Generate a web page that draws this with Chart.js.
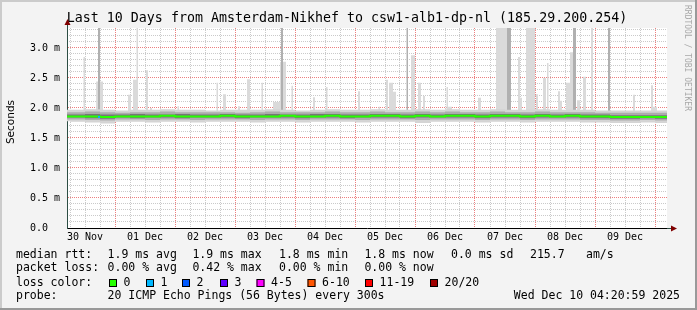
<!DOCTYPE html>
<html>
<head>
<meta charset="utf-8">
<title>Last 10 Days from Amsterdam-Nikhef to csw1-alb1-dp-nl</title>
<script src="https://cdn.jsdelivr.net/npm/chart.js@4.4.1/dist/chart.umd.min.js"></script>
<style>
  html, body { margin: 0; padding: 0; background: #f3f3f3; }
  canvas { display: block; }
</style>
</head>
<body>
<canvas id="chart" width="697" height="310"></canvas>
<script>
// time axis: hours counted from 30 Nov 00:00, window is 10 days ending Dec 10 04:48
const startHour = 4.8;
const spanHours = 240;
const sampleHours = Array.from({length: 42}, (_, i) => i * 6);
const dayLabels = ['30 Nov', '01 Dec', '02 Dec', '03 Dec', '04 Dec', '05 Dec', '06 Dec', '07 Dec', '08 Dec', '09 Dec'];

// median rtt in ms, one value per 6h sample
const medianRtt = [
  1.86, 1.86, 1.86, 1.85, 1.86, 1.86, 1.86, 1.87, 1.86, 1.86,
  1.86, 1.87, 1.86, 1.86, 1.86, 1.87, 1.86, 1.86, 1.87, 1.86,
  1.86, 1.87, 1.87, 1.86, 1.87, 1.86, 1.87, 1.87, 1.86, 1.87,
  1.87, 1.86, 1.87, 1.86, 1.87, 1.86, 1.86, 1.85, 1.85, 1.85,
  1.85, 1.85
];

// smoke: spread of the 20 pings around the median
const smokeInnerHi = [
  1.89, 1.89, 1.90, 1.89, 1.89, 1.90, 1.89, 1.89, 1.90, 1.89,
  1.89, 1.90, 1.89, 1.89, 1.90, 1.89, 1.89, 1.90, 1.90, 1.89,
  1.89, 1.90, 1.90, 1.89, 1.90, 1.89, 1.90, 1.90, 1.89, 1.90,
  1.90, 1.89, 1.90, 1.89, 1.90, 1.89, 1.89, 1.88, 1.88, 1.88,
  1.88, 1.88
];
const smokeInnerLo = [
  1.84, 1.84, 1.83, 1.82, 1.84, 1.83, 1.84, 1.84, 1.83, 1.84,
  1.84, 1.84, 1.83, 1.84, 1.84, 1.84, 1.83, 1.84, 1.84, 1.83,
  1.84, 1.84, 1.84, 1.83, 1.84, 1.84, 1.84, 1.84, 1.83, 1.84,
  1.84, 1.83, 1.84, 1.84, 1.84, 1.83, 1.83, 1.82, 1.82, 1.83,
  1.82, 1.82
];
const smokeMidHi = [
  1.93, 1.93, 1.94, 1.93, 1.92, 1.93, 1.93, 1.94, 1.93, 1.93,
  1.93, 1.93, 1.92, 1.93, 1.94, 1.93, 1.93, 1.93, 1.94, 1.93,
  1.93, 1.94, 1.93, 1.93, 1.94, 1.93, 1.94, 1.93, 1.93, 1.94,
  1.93, 1.93, 1.94, 1.93, 1.93, 1.93, 1.92, 1.92, 1.92, 1.92,
  1.92, 1.92
];
const smokeMidLo = [
  1.81, 1.81, 1.80, 1.79, 1.81, 1.81, 1.80, 1.81, 1.81, 1.80,
  1.81, 1.81, 1.81, 1.80, 1.81, 1.81, 1.80, 1.81, 1.81, 1.81,
  1.80, 1.81, 1.81, 1.81, 1.80, 1.81, 1.81, 1.81, 1.80, 1.81,
  1.81, 1.80, 1.81, 1.81, 1.81, 1.80, 1.80, 1.79, 1.79, 1.80,
  1.79, 1.79
];
const smokeOuterHi = [
  1.97, 1.97, 1.98, 1.97, 1.96, 1.97, 1.97, 1.98, 1.97, 1.97,
  1.96, 1.97, 1.97, 1.97, 1.98, 1.97, 1.96, 1.97, 1.98, 1.97,
  1.97, 1.98, 1.97, 1.97, 1.98, 1.97, 1.98, 1.97, 1.97, 1.98,
  1.97, 1.97, 1.98, 1.97, 1.97, 1.97, 1.96, 1.96, 1.96, 1.96,
  1.96, 1.96
];
const smokeOuterLo = [
  1.78, 1.77, 1.76, 1.74, 1.77, 1.77, 1.76, 1.77, 1.77, 1.76,
  1.77, 1.77, 1.77, 1.76, 1.77, 1.77, 1.76, 1.77, 1.77, 1.77,
  1.76, 1.77, 1.77, 1.77, 1.75, 1.77, 1.77, 1.77, 1.76, 1.77,
  1.77, 1.76, 1.77, 1.77, 1.77, 1.76, 1.76, 1.75, 1.75, 1.76,
  1.75, 1.75
];

// outlier pings: [from hour, to hour, max rtt ms]
const lightSpikes = [
  [11.4, 12.0, 2.85], [16.45, 19.2, 2.44], [29.2, 30.4, 2.22], [31.2, 32.6, 2.47],
  [32.6, 33.2, 3.6], [36.4, 37.2, 2.63], [38.0, 38.8, 2.0], [49.0, 49.6, 2.03],
  [64.6, 65.2, 2.42], [67.2, 68.4, 2.23], [73.2, 74.0, 2.03], [76.8, 78.0, 2.48],
  [82.6, 83.2, 2.42], [87.2, 90.0, 2.1], [90.0, 92.4, 2.77], [94.6, 95.2, 2.37],
  [103.2, 104.0, 2.18], [108.4, 109.0, 2.35], [121.2, 122.0, 2.28], [129.4, 130.0, 2.02],
  [132.4, 133.2, 2.47], [133.6, 135.2, 2.42], [135.2, 136.4, 2.27], [142.4, 144.0, 2.88],
  [145.2, 146.4, 2.42], [147.2, 148.0, 2.2], [156.6, 157.2, 2.35], [157.2, 158.8, 2.02],
  [169.2, 170.4, 2.17], [176.4, 180.8, 3.6], [185.2, 186.0, 2.85], [186.0, 186.8, 2.17],
  [188.4, 192.0, 3.6], [192.4, 193.2, 2.23], [195.2, 196.4, 2.5], [196.8, 197.4, 2.75],
  [201.2, 202.0, 2.28], [202.0, 202.8, 2.12], [204.4, 206.0, 2.42], [206.0, 207.2, 2.93],
  [208.8, 210.0, 2.13], [211.2, 212.4, 2.52], [214.4, 215.2, 3.6], [231.2, 232.0, 2.22],
  [238.4, 239.2, 2.38], [239.2, 240.8, 2.02]
];
const darkSpikes = [
  [17.2, 18.0, 3.6], [90.4, 91.2, 3.6], [140.6, 141.2, 3.6],
  [180.8, 182.4, 3.6], [207.2, 208.4, 3.6], [221.2, 222.0, 3.6]
];
// [from hour, to hour, median ms, lost pings]
const lossEvents = [[17.2, 18.0, 1.85, 1]];

const lossColors = ['#26ff00', '#00b8ff', '#0059ff', '#5e00ff', '#ff00ff', '#ff5500', '#ff0000', '#a00000'];
const lossLabels = ['0', '1', '2', '3', '4-5', '6-10', '11-19', '20/20'];

const rttStats = ['1.9 ms avg', '1.9 ms max', '1.8 ms min', '1.8 ms now', '0.0 ms sd', '215.7', 'am/s'];
const lossStats = ['0.00 % avg', '0.42 % max', '0.00 % min', '0.00 % now'];
const probeText = '20 ICMP Echo Pings (56 Bytes) every 300s';
const stampText = 'Wed Dec 10 04:20:59 2025';
const titleText = 'Last 10 Days from Amsterdam-Nikhef to csw1-alb1-dp-nl (185.29.200.254)';

const yMax = 3.3333;
// grid: 6h minor / midnight major, 0.1 ms minor / 0.5 ms major
const minorHours = [], majorHours = [];
for (let h = 6; h <= spanHours; h += 6) (h % 24 === 0 ? majorHours : minorHours).push(h);
const minorMs = [], majorMs = [];
for (let i = 0; i <= 33; i++) (i % 5 === 0 ? majorMs : minorMs).push(i / 10);

const MONO = '"DejaVu Sans Mono", monospace';
const SPIKE_BASE = 1.9;
const GRID_MINOR = 'rgba(150,150,150,0.5)';
const GRID_MAJOR = 'rgba(220,0,0,0.5)';

function toPoints(values) {
  return sampleHours.map((h, i) => ({x: h, y: values[i]}));
}

function spikePoints(list) {
  const pts = [{x: 0, y: SPIKE_BASE}];
  list.forEach(([a, b, top]) => {
    pts.push({x: a, y: top}, {x: b, y: SPIKE_BASE});
  });
  pts.push({x: 250, y: SPIKE_BASE});
  return pts;
}

const rrdDecor = {
  id: 'rrdDecor',
  beforeDraw(chart) {
    const {ctx, chartArea: a, width, height} = chart;
    ctx.save();
    ctx.fillStyle = '#f3f3f3';
    ctx.fillRect(0, 0, width, height);
    ctx.fillStyle = '#cbcbcb';
    ctx.fillRect(0, 0, width, 2);
    ctx.fillRect(0, 0, 2, height);
    ctx.fillStyle = '#999999';
    ctx.fillRect(0, height - 2, width, 2);
    ctx.fillRect(width - 2, 0, 2, height);
    ctx.fillStyle = '#ffffff';
    ctx.fillRect(a.left, a.top, a.right - a.left, a.bottom - a.top);
    ctx.restore();
  },
  afterDraw(chart) {
    const {ctx, chartArea: a, width} = chart;
    ctx.save();

    // title
    ctx.fillStyle = '#000';
    ctx.font = '13.3px ' + MONO;
    ctx.textAlign = 'center';
    ctx.textBaseline = 'middle';
    ctx.fillText(titleText, 347, 19);

    // y unit
    ctx.save();
    ctx.translate(11, 122);
    ctx.rotate(-Math.PI / 2);
    ctx.font = '10.5px "DejaVu Sans", sans-serif';
    ctx.fillText('Seconds', 0, 0);
    ctx.restore();

    // watermark
    ctx.save();
    ctx.translate(687, 5);
    ctx.rotate(Math.PI / 2);
    ctx.font = '8px ' + MONO;
    ctx.fillStyle = '#a8a8a8';
    ctx.textAlign = 'left';
    ctx.fillText('RRDTOOL / TOBI OETIKER', 0, 0);
    ctx.restore();

    // axis extensions and arrows
    ctx.strokeStyle = '#2c4d43';
    ctx.lineWidth = 1;
    ctx.beginPath();
    ctx.moveTo(a.left + 0.5, a.top);
    ctx.lineTo(a.left + 0.5, a.top - 4);
    ctx.moveTo(a.right, a.bottom + 0.5);
    ctx.lineTo(a.right + 4, a.bottom + 0.5);
    ctx.stroke();
    ctx.fillStyle = '#7f0000';
    ctx.beginPath();
    ctx.moveTo(a.left + 0.5, a.top - 9);
    ctx.lineTo(a.left + 3.5, a.top - 3);
    ctx.lineTo(a.left - 2.5, a.top - 3);
    ctx.closePath();
    ctx.fill();
    ctx.beginPath();
    ctx.moveTo(a.right + 10, a.bottom + 0.5);
    ctx.lineTo(a.right + 4, a.bottom - 2.5);
    ctx.lineTo(a.right + 4, a.bottom + 3.5);
    ctx.closePath();
    ctx.fill();

    // legend block
    ctx.fillStyle = '#000';
    ctx.font = '11.5px ' + MONO;
    ctx.textAlign = 'left';
    ctx.textBaseline = 'middle';
    const cols = [107.6, 192.4, 279, 364.4, 451, 530, 586];
    ctx.fillText('median rtt:', 16, 255);
    rttStats.forEach((t, i) => ctx.fillText(t, cols[i], 255));
    ctx.fillText('packet loss:', 16, 268.5);
    lossStats.forEach((t, i) => ctx.fillText(t, cols[i], 268.5));
    ctx.fillText('loss color:', 16, 283);
    const boxX = [109, 146, 182, 220, 256.5, 307.5, 365, 430];
    lossLabels.forEach((t, i) => {
      ctx.fillStyle = lossColors[i];
      ctx.fillRect(boxX[i], 279, 8, 8);
      ctx.strokeStyle = '#000';
      ctx.strokeRect(boxX[i] + 0.5, 279.5, 7, 7);
      ctx.fillStyle = '#000';
      ctx.fillText(t, boxX[i] + 14.6, 283);
    });
    ctx.fillText('probe:', 16, 296);
    ctx.fillText(probeText, 107.6, 296);
    ctx.textAlign = 'right';
    ctx.fillText(stampText, width - 17, 296);
    ctx.restore();
  }
};

const line = (data, extra) => Object.assign({
  data, stepped: true, borderWidth: 0, pointRadius: 0, fill: false
}, extra);

const gridOnly = (values, color, size, extra) => Object.assign({
  min: 0,
  afterBuildTicks: (scale) => { scale.ticks = values.map(v => ({value: v})); },
  border: {display: false, dash: [1, 1]},
  grid: {drawTicks: false, lineWidth: 1, color},
  ticks: {display: false}
}, extra);

new Chart(document.getElementById('chart'), {
  type: 'line',
  data: {
    datasets: [
      line(lossEvents.flatMap(([a, b, y]) => [{x: a, y}, {x: b, y}]), {
        borderWidth: 2, borderColor: lossColors[lossEvents[0][3]]
      }),
      line(toPoints(medianRtt), {borderWidth: 2, borderColor: lossColors[0]}),
      line(toPoints(smokeInnerHi), {fill: '+1', backgroundColor: 'rgb(118,118,118)'}),
      line(toPoints(smokeInnerLo)),
      line(toPoints(smokeMidHi), {fill: '+1', backgroundColor: 'rgb(172,172,172)'}),
      line(toPoints(smokeMidLo)),
      line(toPoints(smokeOuterHi), {fill: '+1', backgroundColor: 'rgb(212,212,212)'}),
      line(toPoints(smokeOuterLo)),
      line(spikePoints(darkSpikes), {fill: {value: SPIKE_BASE}, backgroundColor: 'rgb(176,176,176)'}),
      line(spikePoints(lightSpikes), {fill: {value: SPIKE_BASE}, backgroundColor: 'rgb(218,218,218)'})
    ]
  },
  options: {
    responsive: false,
    animation: false,
    events: [],
    layout: {padding: {top: 28, right: 30, bottom: 68, left: 0}},
    plugins: {
      legend: {display: false},
      tooltip: {enabled: false},
      title: {display: false}
    },
    scales: {
      x: {
        type: 'linear',
        min: startHour,
        max: startHour + spanHours,
        afterFit: (scale) => { scale.height = 14; },
        afterBuildTicks: (scale) => { scale.ticks = minorHours.map(v => ({value: v})); },
        border: {display: true, color: '#000', width: 1, dash: [1, 1]},
        grid: {drawTicks: false, lineWidth: 1, color: GRID_MINOR},
        ticks: {
          autoSkip: false,
          maxRotation: 0,
          padding: 3,
          color: '#000',
          font: {family: MONO, size: 10},
          callback: (v) => v % 24 === 12 ? dayLabels[(v - 12) / 24] : ''
        }
      },
      xMajor: gridOnly(majorHours, GRID_MAJOR, 0, {
        type: 'linear',
        position: 'bottom',
        min: startHour,
        max: startHour + spanHours,
        afterFit: (scale) => { scale.height = 0; }
      }),
      y: {
        min: 0,
        max: yMax,
        afterFit: (scale) => { scale.width = 67; },
        afterBuildTicks: (scale) => { scale.ticks = majorMs.map(v => ({value: v})); },
        border: {display: true, color: '#2c4d43', width: 1, dash: [1, 1]},
        grid: {drawTicks: false, lineWidth: 1, color: GRID_MAJOR},
        ticks: {
          autoSkip: false,
          padding: 7,
          color: '#000',
          font: {family: MONO, size: 10},
          callback: (v) => v === 0 ? '0.0  ' : v.toFixed(1) + ' m'
        }
      },
      yMinor: gridOnly(minorMs, GRID_MINOR, 0, {
        type: 'linear',
        position: 'left',
        max: yMax,
        afterFit: (scale) => { scale.width = 0; }
      })
    }
  },
  plugins: [rrdDecor]
});
</script>
</body>
</html>
